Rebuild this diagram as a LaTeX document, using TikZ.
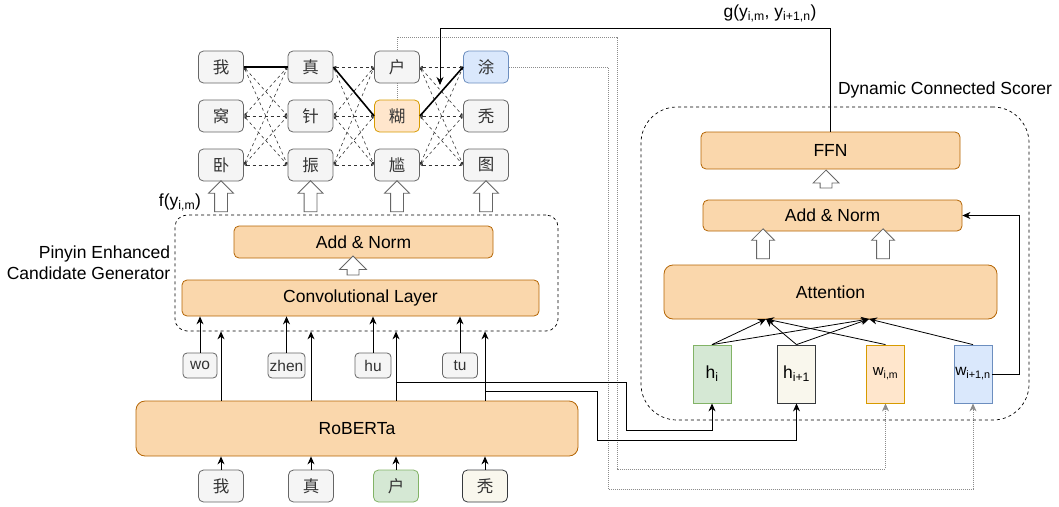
\documentclass[tikz,border=0pt]{standalone}
\usepackage{fontspec}
\setmainfont{Liberation Sans}
\newfontfamily\cjk{Noto Sans CJK SC}
\usetikzlibrary{arrows.meta,shapes.arrows,backgrounds}

\definecolor{boxfill}{HTML}{FAD7AC}
\definecolor{boxline}{HTML}{B46504}
\definecolor{candfill}{HTML}{F5F5F5}
\definecolor{candline}{HTML}{666666}
\definecolor{candtext}{HTML}{333333}
\definecolor{greenfill}{HTML}{D5E8D4}
\definecolor{greenline}{HTML}{82B366}
\definecolor{bluefill}{HTML}{DAE8FC}
\definecolor{blueline}{HTML}{6C8EBF}
\definecolor{peachfill}{HTML}{FFE6CC}
\definecolor{peachline}{HTML}{D79B00}
\definecolor{creamfill}{HTML}{F9F7ED}
\definecolor{creamline}{HTML}{36393D}
\definecolor{feedline}{HTML}{8C8C8C}

\begin{document}
\begin{tikzpicture}[x=1pt,y=-1pt,font=\fontsize{17.5}{21}\selectfont,
  >={Stealth[length=8pt,width=7pt]},line width=0.9pt,
  layer/.style={draw=boxline,fill=boxfill,rounded corners=5pt,line width=0.8pt},
  char/.style={draw=candline,fill=candfill,text=candtext,rounded corners=5pt,line width=0.8pt,
    minimum width=45pt,minimum height=32pt,inner sep=0pt,font=\cjk\fontsize{16.5}{16.5}\selectfont},
  pin/.style={draw=candline,fill=candfill,text=candtext,rounded corners=4pt,line width=0.8pt,
    minimum height=25pt,inner sep=1pt,font=\fontsize{15.5}{15.5}\selectfont},
  vec/.style={line width=0.8pt,minimum width=38pt,minimum height=58pt,inner sep=0pt},
  group/.style={draw,dash pattern=on 3pt off 3pt,line width=0.7pt,inner sep=0pt},
  fat/.style={single arrow,draw=candline,fill=white,shape border rotate=90,inner sep=6pt,
    line width=0.8pt,single arrow head extend=6pt,minimum width=24pt},
  cand/.style={dash pattern=on 3pt off 3pt,line width=0.6pt,candtext,
    {Latex[length=3pt,width=2.5pt]}-{Latex[length=3pt,width=2.5pt]}},
  best/.style={line width=1.6pt},
  feed/.style={dash pattern=on 1pt off 1pt,line width=0.8pt,feedline},
  ]
  \useasboundingbox (0,0) rectangle (1059,506);

  \node[char] (y11) at (221,67) {我};
  \node[char] (y12) at (221,116) {窝};
  \node[char] (y13) at (221,165) {卧};
  \node[char] (y21) at (310.5,67) {真};
  \node[char] (y22) at (310.5,116) {针};
  \node[char] (y23) at (310.5,165) {振};
  \node[char] (y31) at (397,67) {户};
  \node[char,fill=peachfill,draw=peachline] (y32) at (397,116) {糊};
  \node[char] (y33) at (397,165) {尴};
  \node[char,fill=bluefill,draw=blueline] (y41) at (486,67) {涂};
  \node[char] (y42) at (486,116) {秃};
  \node[char] (y43) at (486,165) {图};
  \foreach \i/\j in {1/2,2/3,3/4}
    \foreach \m in {1,2,3}
      \foreach \n in {1,2,3}
        \draw[cand] (y\i\m.east) -- (y\j\n.west);
  \draw[best] (y11.east) -- (y21.west);
  \draw[best] (y21.east) -- (y32.west);
  \draw[best] (y32.east) -- (y41.west);

  \node[fat,minimum height=31pt] (up1) at (221,199.5) {};
  \node[fat,minimum height=31pt] (up2) at (310.5,199.5) {};
  \node[fat,minimum height=31pt] (up3) at (397,199.5) {};
  \node[fat,minimum height=31pt] (up4) at (486,199.5) {};
  \node (flabel) at (180,202) {f(y\textsubscript{i,m})};

  \node[group,rounded corners=12pt,minimum width=383pt,minimum height=116pt] (gen) at (366.5,273) {};
  \node[align=right,anchor=east] (genlabel) at (174,263) {Pinyin Enhanced\\Candidate Generator};
  \node[layer,minimum width=259pt,minimum height=32pt] (add1) at (363.5,242) {Add \& Norm};
  \node[layer,minimum width=357pt,minimum height=36pt] (conv) at (360.5,298) {Convolutional Layer};
  \node[fat,minimum height=19pt,inner sep=5.5pt,single arrow head extend=7.5pt,minimum width=26pt] (upc) at (353,268.5) {};

  \node[pin,minimum width=34pt] (p1) at (200,365.5) {wo};
  \node[pin,minimum width=37pt] (p2) at (286.5,365.5) {zhen};
  \node[pin,minimum width=36pt] (p3) at (373,365.5) {hu};
  \node[pin,minimum width=35pt] (p4) at (460,365.5) {tu};

  \node[layer,rounded corners=9pt,minimum width=442pt,minimum height=55pt] (rob) at (357,428.5) {RoBERTa};
  \node[char] (x1) at (221,486) {我};
  \node[char] (x2) at (311,486) {真};
  \node[char,fill=greenfill,draw=greenline] (x3) at (396,486) {户};
  \node[char,fill=creamfill,draw=creamline] (x4) at (485,486) {秃};
  \foreach \k in {1,...,4} {
    \draw[->] (x\k.north) -- (x\k |- rob.south);
    \draw[->] (x\k |- rob.north) -- (x\k |- gen.south);
    \draw[->] (p\k.north) -- (p\k |- conv.south);
  }

  \node[group,rounded corners=36pt,minimum width=388pt,minimum height=313pt] (scorer) at (835,263.5) {};
  \node (slabel) at (945,90) {Dynamic Connected Scorer};
  \node[layer,minimum width=259pt,minimum height=37pt] (ffn) at (830.5,150.5) {FFN};
  \node[layer,minimum width=259pt,minimum height=31pt] (add2) at (832.5,215.5) {Add \& Norm};
  \node[layer,rounded corners=9pt,minimum width=333pt,minimum height=54pt] (att) at (830.5,292) {Attention};
  \node[fat,minimum height=18pt,inner sep=5.5pt,single arrow head extend=7pt,minimum width=25pt] (upf) at (826,182) {};
  \node[fat,minimum height=30pt,single arrow head extend=5pt,minimum width=22pt] (upa1) at (763,247) {};
  \node[fat,minimum height=30pt,single arrow head extend=5pt,minimum width=22pt] (upa2) at (883,247) {};

  \node[vec,draw=greenline,fill=greenfill] (hi) at (712,374) {h\textsubscript{i}};
  \node[vec,draw=creamline,fill=creamfill] (hj) at (796.5,374) {h\textsubscript{i+1}};
  \node[vec,draw=peachline,fill=peachfill,font=\fontsize{15}{15}\selectfont] (wm) at (885.5,374) {w\textsubscript{i,m}};
  \node[vec,draw=blueline,fill=bluefill,font=\fontsize{15.5}{15.5}\selectfont] (wn) at (973,374) {w\textsubscript{i+1,n}};

  \coordinate (in1) at (766,319);
  \coordinate (in2) at (869,319);
  \draw[->,line width=0.8pt] (hi.north) -- (in1);
  \draw[->,line width=0.8pt] (hi.north) -- (in2);
  \draw[->,line width=0.8pt] (hj.north) -- (in1);
  \draw[->,line width=0.8pt] (hj.north) -- (in2);
  \draw[->,line width=0.8pt] (wm.north) -- (in1);
  \draw[->,line width=0.8pt] (wn.north) -- (in2);
  \draw[->,line width=0.8pt] (wn.east) -| (1019,215.5) -- (add2.east);

  \coordinate (b1) at (396,382);
  \coordinate (b2) at (485,391);
  \draw[->] (b1) -| (626,430) -| (hi.south);
  \draw[->] (b2) -| (597,440) -| (hj.south);

  \coordinate (gtip) at (440,85);
  \node (glabel) at (770,13) {g(y\textsubscript{i,m}, y\textsubscript{i+1,n})};
  \draw[->] (ffn.north) |- (440,28) -- (gtip);

  \begin{scope}[on background layer]
    \draw[feed,->] (y32.north) -- (397,37) -- (617,37) -- (617,469) -| (wm.south);
    \draw[feed,->] (y41.east) -| (608,489) -| (wn.south);
  \end{scope}
\end{tikzpicture}
\end{document}
